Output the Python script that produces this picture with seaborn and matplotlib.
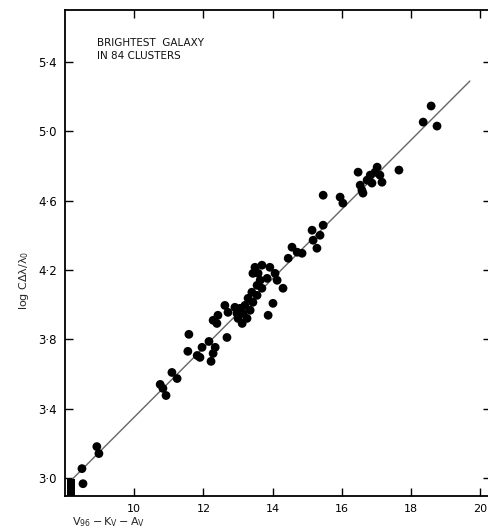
import matplotlib
matplotlib.use("Agg")
import matplotlib.pyplot as plt
import seaborn as sns
import numpy as np
import pandas as pd

# apparent magnitude V96 - Kv - Av
mag = [8.52, 8.49, 8.92, 8.98, 10.83, 10.92, 10.75, 11.09, 11.24, 11.58,
       11.55, 11.82, 11.96, 11.90, 12.16, 12.34, 12.28, 12.22, 12.68, 12.39,
       12.28, 12.42, 12.62, 12.71, 12.97, 13.00, 13.14, 13.26, 13.12, 12.91,
       13.06, 13.20, 13.29, 13.43, 13.40, 13.55, 13.55, 13.69, 13.84, 13.43,
       13.58, 13.49, 13.69, 13.92, 14.07, 14.13, 14.30, 14.01, 13.87, 14.45,
       14.56, 14.71, 14.85, 15.14, 15.17, 15.37, 15.28, 15.46, 15.46, 15.95,
       16.03, 16.47, 16.53, 16.58, 16.61, 16.73, 16.82, 16.87, 16.96, 17.02,
       17.10, 17.16, 17.65, 18.35, 18.58, 18.75, 13.35, 13.64]
# log c dlambda / lambda0
logcz = [2.966, 3.053, 3.180, 3.140, 3.516, 3.475, 3.539, 3.608, 3.573, 3.828,
         3.730, 3.706, 3.753, 3.695, 3.787, 3.753, 3.718, 3.672, 3.810, 3.891,
         3.909, 3.938, 3.995, 3.955, 3.949, 3.920, 3.949, 3.920, 3.891, 3.984,
         3.978, 3.995, 4.036, 4.013, 4.071, 4.053, 4.111, 4.094, 4.151, 4.180,
         4.180, 4.215, 4.227, 4.215, 4.180, 4.140, 4.094, 4.007, 3.938, 4.267,
         4.331, 4.302, 4.296, 4.429, 4.371, 4.400, 4.325, 4.458, 4.631, 4.620,
         4.585, 4.764, 4.689, 4.660, 4.643, 4.718, 4.747, 4.701, 4.764, 4.793,
         4.747, 4.706, 4.776, 5.053, 5.146, 5.030, 3.967, 4.140]

# fitted line (slope 0.2)
line_x = [8.1, 19.7]
line_slope = 0.2
line_intercept = 1.35

# solid block in lower-left corner
block_x = [8.05, 8.29]
block_top = 2.995

x_ticks = [10, 12, 14, 16, 18, 20]
y_ticks = [3.0, 3.4, 3.8, 4.2, 4.6, 5.0, 5.4]

df = pd.DataFrame({"mag": mag, "logcz": logcz})

sns.set_style("ticks")
plt.rcParams["font.family"] = ["DejaVu Sans"]

W, H = 488, 531
fig = plt.figure(figsize=(W / 100, H / 100), dpi=100)
ax = fig.add_axes([65 / W, 35 / H, 426 / W, 486 / H])

ax.set_xlim(8, 20.31)
ax.set_ylim(2.895, 5.70)

lx = np.array(line_x)
sns.lineplot(x=lx, y=line_slope * lx + line_intercept, ax=ax, color="#666666", lw=1.0)
sns.scatterplot(data=df, x="mag", y="logcz", ax=ax, color="black", s=40,
                edgecolor="none", zorder=3)
ax.fill_between(block_x, [ax.get_ylim()[0]] * 2, [block_top] * 2, color="black",
                lw=0, zorder=3)

ax.set_xticks(x_ticks)
ax.set_yticks(y_ticks)
ax.set_xticklabels([f"{v:g}" for v in x_ticks], fontsize=8)
ax.set_yticklabels([f"{v:.1f}".replace(".", "\u00b7") for v in y_ticks], fontsize=8.5)
ax.tick_params(direction="in", length=6, width=1, top=True, right=True,
               colors="black", pad=6)
for s in ax.spines.values():
    s.set_linewidth(1.3)
    s.set_color("black")
ax.spines["right"].set_visible(False)
ax.set_xlabel("")
ax.set_ylabel("")

ax.text(8.92, 5.47, "BRIGHTEST  GALAXY\nIN 84 CLUSTERS", fontsize=7.5,
        ha="left", va="center", linespacing=1.4, color="#111111")

fig.text(72 / W, 1 - 522 / H, r"$\mathregular{V_{96}-K_V-A_V}$", fontsize=8,
         ha="left", va="center")
fig.text(24 / W, 1 - 280 / H, r"log C$\mathregular{\Delta\lambda/\lambda_0}$",
         fontsize=8, rotation=90, ha="center", va="center")

fig.savefig("out.png", dpi=100, facecolor="white")
